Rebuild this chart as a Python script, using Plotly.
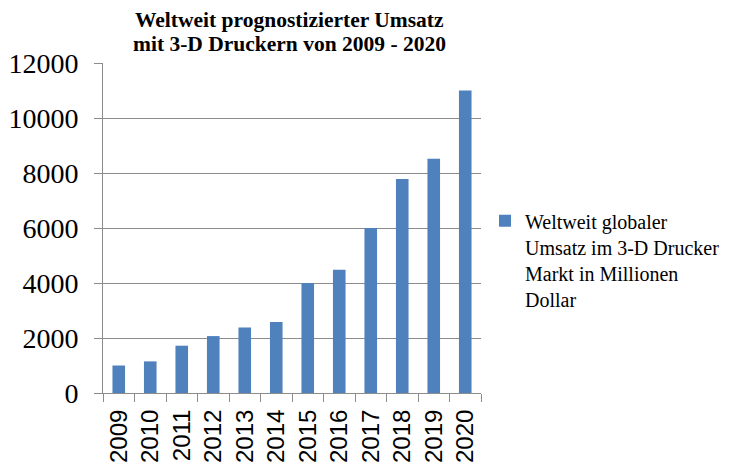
import plotly.graph_objects as go

years = ["2009", "2010", "2011", "2012", "2013", "2014", "2015", "2016", "2017", "2018", "2019", "2020"]
umsatz = [1000, 1150, 1720, 2070, 2380, 2580, 4000, 4480, 6000, 7780, 8520, 11000]
series_name = "Weltweit globaler<br>Umsatz im 3-D Drucker<br>Markt in Millionen<br>Dollar"
title_lines = ["Weltweit prognostizierter Umsatz", "mit 3-D Druckern von 2009 - 2020"]
y_ticks = [0, 2000, 4000, 6000, 8000, 10000, 12000]
y_tick_labels = ["0", "2000", "4000", "6000", "8000", "10000", "12000"]

fig = go.Figure()
fig.add_trace(go.Bar(
    x=years, y=umsatz, name=series_name,
    marker=dict(color="#4F81BD", line=dict(width=0)),
    showlegend=True,
))

grid = "#8C8C8C"
serif = "Liberation Serif, Times New Roman, serif"
W, H = 735, 468
for line, yc in zip(title_lines, [12.5, 35.5]):
    fig.add_annotation(
        text=f"<b>{line}</b>", xref="paper", yref="paper",
        x=(281 - 95) / (W - 95 - 262), y=1 + (55 - yc) / (H - 55 - 83),
        xanchor="center", yanchor="middle", showarrow=False,
        font=dict(family=serif, size=21.5, color="black"),
    )

fig.update_layout(
    width=W, height=H,
    paper_bgcolor="white", plot_bgcolor="white",
    margin=dict(l=95, r=262, t=55, b=83, autoexpand=False),
    bargap=0.6,
    xaxis=dict(
        type="category", tickangle=-90,
        tickfont=dict(family="Liberation Sans, Arial, sans-serif", size=24, color="black"),
        showline=True, linecolor=grid, linewidth=1,
        ticks="outside", ticklen=8, tickcolor=grid, tickson="boundaries",
        showgrid=False, ticklabelstandoff=6,
    ),
    yaxis=dict(
        range=[0, 12000], tickvals=y_ticks, ticktext=y_tick_labels,
        tickfont=dict(family=serif, size=28, color="black"),
        showline=True, linecolor=grid, linewidth=1,
        ticks="outside", ticklen=8, tickcolor=grid,
        showgrid=True, gridcolor=grid, gridwidth=1,
        zeroline=False, ticklabelstandoff=10,
    ),
    legend=dict(
        x=1.0106, xanchor="left", y=0.581, yanchor="top",
        font=dict(family=serif, size=20, color="black"),
        valign="top", bgcolor="rgba(0,0,0,0)",
    ),
)

fig.write_html("out.html")
